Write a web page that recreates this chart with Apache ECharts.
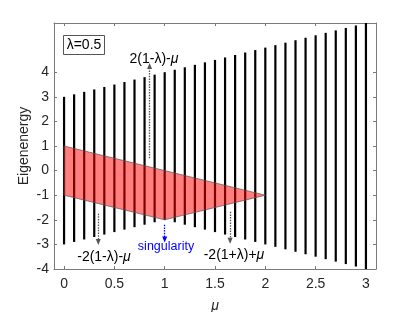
<!DOCTYPE html>
<html>
<head>
<meta charset="utf-8">
<script src="https://cdn.jsdelivr.net/npm/echarts@6/dist/echarts.min.js"></script>
<style>
html,body{margin:0;padding:0;background:#fff;}
#c{width:415px;height:312px;}
</style>
</head>
<body>
<div id="c"></div>
<script>
// ---- data ----
var mu = [0,0.1,0.2,0.3,0.4,0.5,0.6,0.7,0.8,0.9,1.0,1.1,1.2,1.3,1.4,1.5,1.6,1.7,1.8,1.9,2.0,2.1,2.2,2.3,2.4,2.5,2.6,2.7,2.8,2.9,3.0];
var bandTop = [3.0,3.1,3.2,3.3,3.4,3.5,3.6,3.7,3.8,3.9,4.0,4.1,4.2,4.3,4.4,4.5,4.6,4.7,4.8,4.9,5.0,5.1,5.2,5.3,5.4,5.5,5.6,5.7,5.8,5.9,6.0];
var bandBottom = [-3.0,-2.9,-2.8,-2.7,-2.6,-2.5,-2.4,-2.3,-2.2,-2.1,-2.0,-2.1,-2.2,-2.3,-2.4,-2.5,-2.6,-2.7,-2.8,-2.9,-3.0,-3.1,-3.2,-3.3,-3.4,-3.5,-3.6,-3.7,-3.8,-3.9,-4.0];
var regionMu = [0, 2, 1, 0];
var regionE = [1, -1, -2, -1];
var xTicks = [0,0.5,1,1.5,2,2.5,3];
var yTicks = [-4,-3,-2,-1,0,1,2,3,4];
// annotation arrows: [mu, fromE, toE]
var arrowUp = [0.85, 0.5, 4.25];
var arrowLeft = [0.34, -1.75, -2.9];
var arrowSing = [1.0, -2.2, -2.8];
var arrowRight = [1.65, -1.67, -2.85];

var FONT = '"Liberation Sans", Arial, Helvetica, sans-serif';
var TXT = '#262626';
var AX = '#7a7a7a';

var barData = mu.map(function (m, i) { return [m, bandBottom[i], bandTop[i]]; });

function axisCommon(extra) {
  return Object.assign({
    type: 'value',
    splitLine: { show: false },
    axisLine: { show: true, onZero: false, lineStyle: { color: AX, width: 1 } },
    axisTick: { show: true, inside: true, length: 3, lineStyle: { color: AX } },
    axisLabel: { show: false }
  }, extra);
}

function arrowLine(a) {
  return [{ coord: [a[0], a[1]] }, { coord: [a[0], a[2]] }];
}

var chart = echarts.init(document.getElementById('c'), null, { renderer: 'canvas' });
chart.setOption({
  animation: false,
  backgroundColor: '#fff',
  grid: { left: 54, top: 23, right: 39, bottom: 43, containLabel: false, outerBoundsMode: 'none' },
  xAxis: [
    axisCommon({
      min: -0.1, max: 3.1, position: 'bottom',
      axisTick: { show: true, inside: true, length: 3, lineStyle: { color: AX }, customValues: xTicks },
      axisLabel: { show: true, customValues: xTicks, color: TXT, fontSize: 14, fontFamily: FONT, margin: 8,
        formatter: function (v) { return String(v); } },
      name: 'μ', nameLocation: 'middle', nameGap: 30, nameMoveOverlap: false,
      nameTextStyle: { color: TXT, fontSize: 14, fontFamily: FONT, fontStyle: 'italic' }
    }),
    axisCommon({
      min: -0.1, max: 3.1, position: 'top',
      axisTick: { show: true, inside: true, length: 3, lineStyle: { color: AX }, customValues: xTicks }
    })
  ],
  yAxis: [
    axisCommon({
      min: -4, max: 6, position: 'left',
      axisTick: { show: true, inside: true, length: 3, lineStyle: { color: AX }, customValues: yTicks },
      axisLabel: { show: true, customValues: yTicks, color: TXT, fontSize: 14, fontFamily: FONT, margin: 5 },
      name: 'Eigenenergy', nameLocation: 'middle', nameGap: 23, nameRotate: 90, nameMoveOverlap: false,
      nameTextStyle: { color: TXT, fontSize: 14, fontFamily: FONT }
    }),
    axisCommon({
      min: -4, max: 6, position: 'right',
      axisTick: { show: true, inside: true, length: 3, lineStyle: { color: AX }, customValues: yTicks }
    })
  ],
  series: [
    {
      type: 'custom',
      z: 2,
      data: barData,
      encode: { x: 0, y: [1, 2] },
      renderItem: function (params, api) {
        var p1 = api.coord([api.value(0), api.value(1)]);
        var p2 = api.coord([api.value(0), api.value(2)]);
        return { type: 'line', shape: { x1: p1[0], y1: p1[1], x2: p2[0], y2: p2[1] },
          style: { stroke: '#000', lineWidth: 2.2 } };
      }
    },
    {
      type: 'custom',
      z: 3,
      data: [[regionMu[0], regionE[0]]],
      renderItem: function (params, api) {
        var pts = regionMu.map(function (m, i) { return api.coord([m, regionE[i]]); });
        return { type: 'polygon', shape: { points: pts },
          style: { fill: 'rgba(255,0,0,0.5)', stroke: '#555', lineWidth: 0.7 } };
      }
    },
    {
      type: 'line',
      z: 4,
      data: [],
      markLine: {
        silent: true,
        animation: false,
        symbol: ['none', 'triangle'],
        symbolSize: [5, 6],
        label: { show: false },
        lineStyle: { type: [1.5, 1.2], width: 1.3, color: '#555' },
        data: [arrowLine(arrowUp), arrowLine(arrowLeft), arrowLine(arrowRight)]
      }
    },
    {
      type: 'line',
      z: 4,
      data: [],
      markLine: {
        silent: true,
        animation: false,
        symbol: ['none', 'triangle'],
        symbolSize: [5, 6],
        label: { show: false },
        lineStyle: { type: [1.5, 1.2], width: 1.3, color: '#0000ff' },
        data: [arrowLine(arrowSing)]
      }
    }
  ],
  graphic: [
    { type: 'rect', shape: { x: 63.5, y: 35.5, width: 41, height: 19 },
      style: { fill: '#fff', stroke: '#555', lineWidth: 1 }, z: 10 },
    { type: 'text', x: 84, y: 45, z: 11,
      style: { text: 'λ=0.5', fill: '#000', font: '14px ' + FONT, align: 'center', verticalAlign: 'middle' } },
    { type: 'text', x: 154, y: 59, z: 11,
      style: { text: '2(1-λ)-{i|μ}', fill: '#000', font: '14px ' + FONT, align: 'center', verticalAlign: 'middle',
        rich: { i: { fontStyle: 'italic', fontSize: 14, fontFamily: FONT, fill: '#000' } } } },
    { type: 'text', x: 104, y: 257, z: 11,
      style: { text: '-2(1-λ)-{i|μ}', fill: '#000', font: '14px ' + FONT, align: 'center', verticalAlign: 'middle',
        rich: { i: { fontStyle: 'italic', fontSize: 14, fontFamily: FONT, fill: '#000' } } } },
    { type: 'text', x: 234, y: 255, z: 11,
      style: { text: '-2(1+λ)+{i|μ}', fill: '#000', font: '14px ' + FONT, align: 'center', verticalAlign: 'middle',
        rich: { i: { fontStyle: 'italic', fontSize: 14, fontFamily: FONT, fill: '#000' } } } },
    { type: 'text', x: 166, y: 247, z: 11,
      style: { text: 'singularity', fill: '#0000ff', font: '12.5px ' + FONT, align: 'center', verticalAlign: 'middle' } }
  ]
});
</script>
</body>
</html>
